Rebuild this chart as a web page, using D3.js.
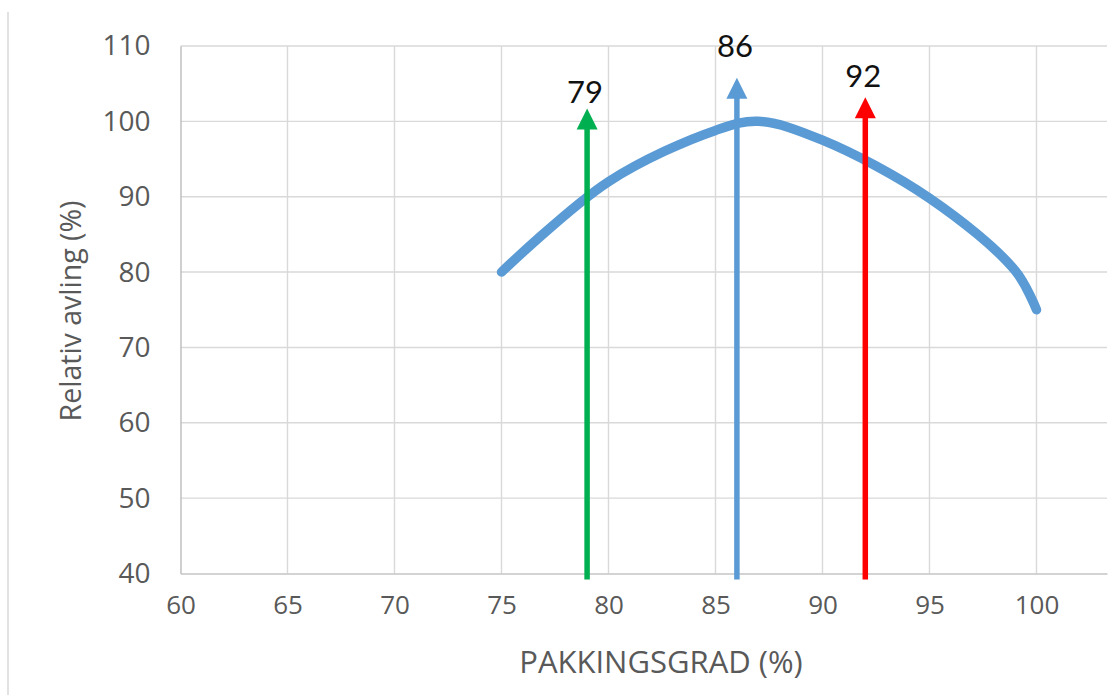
<!DOCTYPE html>
<html>
<head>
<meta charset="utf-8">
<script src="https://cdn.jsdelivr.net/npm/d3@7"></script>
<style>
  html, body { margin: 0; padding: 0; background: #fff; }
  svg { display: block; }
</style>
</head>
<body>
<svg id="chart" width="1109" height="695"></svg>
<script>
// Relative yield as a function of packing degree
const packing = [75, 80, 85, 87, 90, 95, 99, 100];
const relYield = [80, 92, 98.8, 100, 97.5, 89.8, 80.2, 75];

// Axis ticks
const xTicks = [60, 65, 70, 75, 80, 85, 90, 95, 100];
const yTicks = [40, 50, 60, 70, 80, 90, 100, 110];

// Marked packing degrees (arrows) with their labels
const markValues = [79, 86, 92];
const markLabels = ["79", "86", "92"];
const markTops = [101.7, 105.8, 103.2];
const markLabelLevels = [102.5, 108.5, 104.5];
const markColors = ["#00b050", "#5b9bd5", "#ff0000"];

(function draw() {
  const svg = d3.select("#chart");

  const plotLeft = 180.5, plotRight = 1107, plotTop = 46, plotBottom = 573.5;

  const x = d3.scaleLinear().domain([60, 60 + (plotRight - plotLeft) / 21.4]).range([plotLeft, plotRight]);
  const y = d3.scaleLinear().domain([40, 110]).range([plotBottom, plotTop]);

  // Outer frame edge on the left
  svg.append("line")
    .attr("x1", 8).attr("x2", 8).attr("y1", 12).attr("y2", 695)
    .attr("stroke", "#d9d9d9").attr("stroke-width", 1.5);

  // Gridlines
  const grid = svg.append("g");
  grid.selectAll("line.h").data(yTicks.filter(d => d > 40)).join("line")
    .attr("class", "h")
    .attr("x1", plotLeft).attr("x2", plotRight)
    .attr("y1", d => y(d)).attr("y2", d => y(d))
    .attr("stroke", "#d9d9d9").attr("stroke-width", 1.4);
  grid.selectAll("line.v").data(xTicks.filter(d => d > 60)).join("line")
    .attr("class", "v")
    .attr("x1", d => x(d)).attr("x2", d => x(d))
    .attr("y1", plotTop).attr("y2", plotBottom)
    .attr("stroke", "#d9d9d9").attr("stroke-width", 1.4);

  // Axes
  const xAxis = svg.append("g")
    .attr("transform", `translate(0,${plotBottom})`)
    .call(d3.axisBottom(x).tickValues(xTicks).tickSize(0).tickPadding(22));
  xAxis.select(".domain").attr("stroke", "#c4c4c4").attr("stroke-width", 1.6);
  xAxis.selectAll("text")
    .attr("fill", "#595959")
    .style("font-family", "'Open Sans', sans-serif")
    .style("font-size", "26px");

  const yAxis = svg.append("g")
    .attr("transform", `translate(${plotLeft},0)`)
    .call(d3.axisLeft(y).tickValues(yTicks).tickSize(0).tickPadding(30));
  yAxis.select(".domain").attr("stroke", "#c4c4c4").attr("stroke-width", 1.6);
  yAxis.selectAll("text")
    .attr("fill", "#595959")
    .style("font-family", "'Open Sans', sans-serif")
    .style("font-size", "28px");

  // Axis titles
  svg.append("text")
    .attr("x", 661).attr("y", 673)
    .attr("text-anchor", "middle")
    .attr("fill", "#595959")
    .style("font-family", "'Open Sans', sans-serif")
    .style("font-size", "31px")
    .text("PAKKINGSGRAD (%)");

  svg.append("text")
    .attr("transform", "translate(81,311) rotate(-90)")
    .attr("text-anchor", "middle")
    .attr("fill", "#595959")
    .style("font-family", "'Open Sans', sans-serif")
    .style("font-size", "28.5px")
    .text("Relativ avling (%)");

  // Yield curve
  const line = d3.line()
    .x((d, i) => x(packing[i]))
    .y(d => y(d))
    .curve(d3.curveCatmullRom.alpha(0.5));

  svg.append("path")
    .attr("d", line(relYield))
    .attr("fill", "none")
    .attr("stroke", "#5b9bd5")
    .attr("stroke-width", 9.5)
    .attr("stroke-linecap", "round")
    .attr("stroke-linejoin", "round");

  // Arrows marking packing degrees
  const head = 21;
  const marks = svg.append("g");
  markValues.forEach((v, i) => {
    const cx = x(v);
    const tipY = y(markTops[i]);
    const g = marks.append("g");
    g.append("line")
      .attr("x1", cx).attr("x2", cx)
      .attr("y1", plotBottom + 6).attr("y2", tipY + head - 2)
      .attr("stroke", markColors[i])
      .attr("stroke-width", 5.5);
    g.append("path")
      .attr("d", `M${cx},${tipY} L${cx + head / 2},${tipY + head} L${cx - head / 2},${tipY + head} Z`)
      .attr("fill", markColors[i]);
    g.append("text")
      .attr("x", cx - 2)
      .attr("y", y(markLabelLevels[i]))
      .attr("text-anchor", "middle")
      .attr("fill", "#111")
      .style("font-family", "Lato, 'Open Sans', sans-serif")
      .style("font-size", "31px")
      .text(markLabels[i]);
  });
})();
</script>
</body>
</html>
